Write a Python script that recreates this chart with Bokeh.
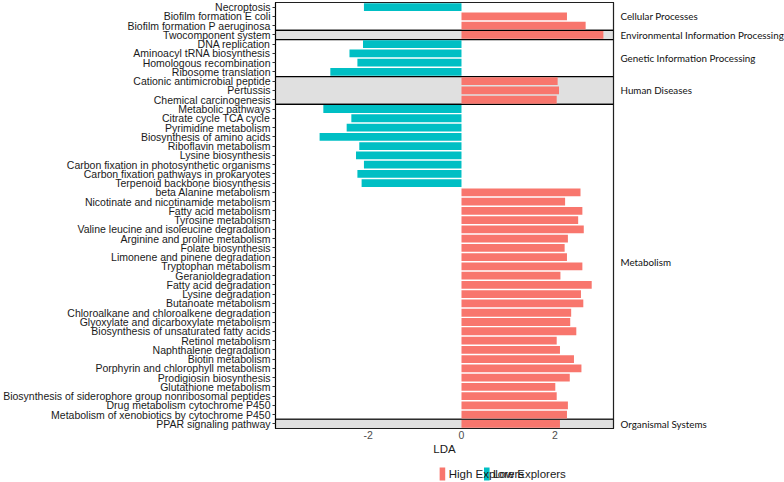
from bokeh.plotting import figure
from bokeh.layouts import column
from bokeh.models import (Range1d, FixedTicker, LinearAxis, ColumnDataSource)
from bokeh.core.properties import value
from bokeh.embed import file_html
from bokeh.resources import INLINE

pathways = [
    "Necroptosis", "Biofilm formation E coli", "Biofilm formation P aeruginosa",
    "Twocomponent system",
    "DNA replication", "Aminoacyl tRNA biosynthesis", "Homologous recombination", "Ribosome translation",
    "Cationic antimicrobial peptide", "Pertussis", "Chemical carcinogenesis",
    "Metabolic pathways", "Citrate cycle TCA cycle", "Pyrimidine metabolism", "Biosynthesis of amino acids",
    "Riboflavin metabolism", "Lysine biosynthesis", "Carbon fixation in photosynthetic organisms",
    "Carbon fixation pathways in prokaryotes", "Terpenoid backbone biosynthesis", "beta Alanine metabolism",
    "Nicotinate and nicotinamide metabolism", "Fatty acid metabolism", "Tyrosine metabolism",
    "Valine leucine and isoleucine degradation", "Arginine and proline metabolism", "Folate biosynthesis",
    "Limonene and pinene degradation", "Tryptophan metabolism", "Geranioldegradation",
    "Fatty acid degradation", "Lysine degradation", "Butanoate metabolism",
    "Chloroalkane and chloroalkene degradation", "Glyoxylate and dicarboxylate metabolism",
    "Biosynthesis of unsaturated fatty acids", "Retinol metabolism", "Naphthalene degradation",
    "Biotin metabolism", "Porphyrin and chlorophyll metabolism", "Prodigiosin biosynthesis",
    "Glutathione metabolism", "Biosynthesis of siderophore group nonribosomal peptides",
    "Drug metabolism cytochrome P450", "Metabolism of xenobiotics by cytochrome P450",
    "PPAR signaling pathway",
]
lda = [
    -2.09, 2.26, 2.66,
    3.04,
    -2.11, -2.40, -2.23, -2.81,
    2.06, 2.09, 2.04,
    -2.96, -2.36, -2.46, -3.04, -2.19, -2.26, -2.09, -2.23, -2.14,
    2.55, 2.22, 2.59, 2.50, 2.62, 2.28, 2.21, 2.26, 2.59, 2.12, 2.79, 2.56, 2.61,
    2.35, 2.33, 2.46, 2.04, 2.11, 2.41, 2.57, 2.32, 2.01, 2.04, 2.28, 2.26,
    2.11,
]
groups = ["Cellular Processes", "Environmental Information Processing", "Genetic Information Processing",
          "Human Diseases", "Metabolism", "Organismal Systems"]
group_sizes = [3, 1, 4, 3, 34, 1]
group_fill = ["white", "#E0E0E0", "white", "#E0E0E0", "white", "#E0E0E0"]
x_ticks = [-2, 0, 2]
legend_labels = ["High Explorers", "Low Explorers"]

RED = "#F8766D"
TEAL = "#00BFC4"
n = len(pathways)
XMIN, XMAX = -3.985, 3.257

p = figure(frame_width=338, frame_height=426, output_backend="svg", toolbar_location=None,
           x_range=Range1d(XMIN, XMAX), y_range=Range1d(n - 0.5, -0.5),
           min_border_left=274, min_border_right=172, min_border_top=2, min_border_bottom=0)
p.background_fill_color = "white"
p.border_fill_color = "white"
p.xgrid.visible = False
p.ygrid.visible = False
p.outline_line_color = "black"
p.outline_line_width = 1.2

# group boxes
tops, bottoms, centers = [], [], []
start = 0
for s in group_sizes:
    tops.append(start - 0.5)
    bottoms.append(start + s - 0.5)
    centers.append(start + (s - 1) / 2)
    start += s
p.quad(left=[XMIN] * len(groups), right=[XMAX] * len(groups), top=tops, bottom=bottoms,
       fill_color=group_fill, line_color="black", line_width=1.2)

idx = list(range(n))
hi = ColumnDataSource(dict(y=[i for i in idx if lda[i] > 0], v=[lda[i] for i in idx if lda[i] > 0]))
lo = ColumnDataSource(dict(y=[i for i in idx if lda[i] < 0], v=[lda[i] for i in idx if lda[i] < 0]))
p.hbar(y="y", left=0, right="v", height=0.84, source=hi, fill_color=RED, line_color=None)
p.hbar(y="y", left=0, right="v", height=0.84, source=lo, fill_color=TEAL, line_color=None)

# group labels as a right-hand axis
gax = LinearAxis(ticker=FixedTicker(ticks=centers),
                 major_label_overrides={c: g for c, g in zip(centers, groups)})
gax.axis_line_color = None
gax.major_tick_out = 0
gax.major_tick_in = 0
gax.minor_tick_out = 0
gax.minor_tick_in = 0
gax.major_label_standoff = 7
gax.major_label_text_font = "Lato"
gax.major_label_text_font_size = "9.8px"
gax.major_label_text_color = "#111111"
p.add_layout(gax, "right")

# axes
ya = p.yaxis[0]
ya.ticker = FixedTicker(ticks=idx)
ya.major_label_overrides = {i: name for i, name in enumerate(pathways)}
ya.major_label_text_font = "Liberation Sans"
ya.major_label_text_font_size = "10.5px"
ya.major_label_text_color = "#1A1A1A"
ya.major_tick_out = 3
ya.major_tick_in = 0
ya.minor_tick_out = 0
ya.minor_tick_in = 0
ya.major_label_standoff = 2
ya.axis_line_color = "black"
ya.major_tick_line_color = "#333333"

xa = p.xaxis[0]
xa.ticker = FixedTicker(ticks=x_ticks)
xa.major_label_overrides = {t: str(t) for t in x_ticks}
xa.axis_label = "LDA"
xa.axis_label_text_font = "Liberation Sans"
xa.axis_label_text_font_style = "normal"
xa.axis_label_text_font_size = "11.5px"
xa.axis_label_text_color = "#1A1A1A"
xa.axis_label_standoff = 1
xa.major_label_text_font = "Liberation Sans"
xa.major_label_text_font_size = "10.5px"
xa.major_label_text_color = "#4D4D4D"
xa.major_tick_out = 0
xa.major_tick_in = 0
xa.minor_tick_out = 0
xa.minor_tick_in = 0
xa.major_label_standoff = 2
xa.axis_line_color = None

# legend strip below the chart (pixel-scaled coordinates)
leg = figure(width=784, height=24, output_backend="svg", toolbar_location=None,
             x_range=Range1d(0, 784), y_range=Range1d(0, 24),
             min_border_left=0, min_border_right=0, min_border_top=0, min_border_bottom=0)
leg.axis.visible = False
leg.xgrid.visible = False
leg.ygrid.visible = False
leg.outline_line_color = None
leg.background_fill_color = "white"
leg.border_fill_color = "white"
sw_x = [389.5, 493.0]
leg.rect(x=sw_x, y=[7.5, 7.5], width=13, height=13, fill_color=[RED, TEAL], line_color=None)
leg.text(x=[sx + 14.5 for sx in sw_x], y=[7.5, 7.5], text=legend_labels, text_baseline="middle",
         text_align="left", text_font=value("Liberation Sans"), text_font_size="11.5px",
         text_color="#1A1A1A")

open("out.html", "w").write(file_html(column(p, leg, spacing=0), INLINE))
